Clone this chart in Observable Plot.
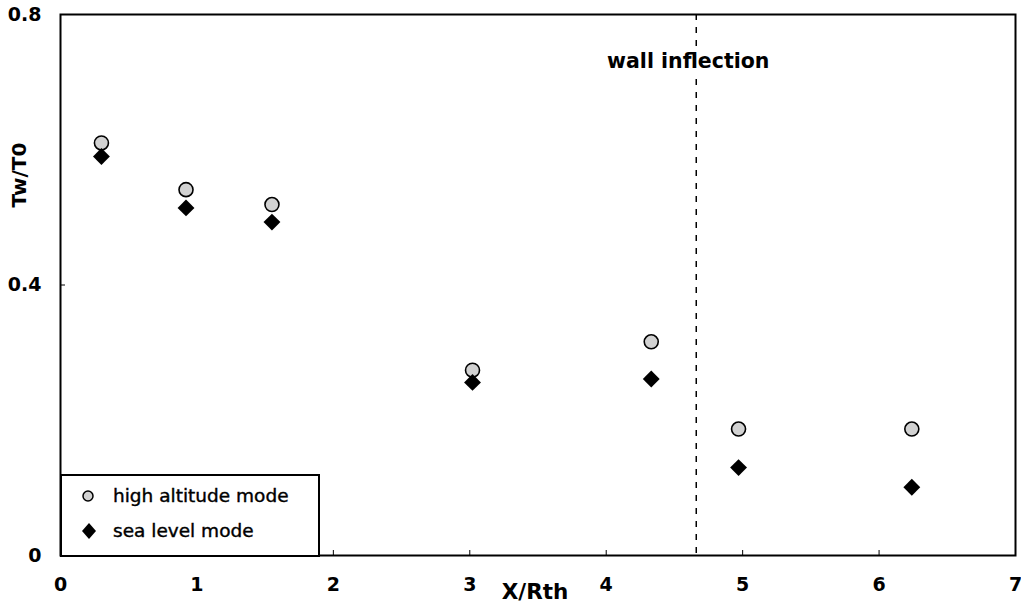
<!DOCTYPE html>
<html>
<head>
<meta charset="utf-8">
<script src="https://cdn.jsdelivr.net/npm/d3@7"></script>
<script src="https://cdn.jsdelivr.net/npm/@observablehq/plot@0.6"></script>
<style>
  html, body { margin: 0; padding: 0; background: #fff; }
  #wrap { position: relative; width: 1021px; height: 607px; }
  #legend {
    position: absolute; left: 60px; top: 474px; width: 256px; height: 79px;
    border: 2px solid #000; background: #fff;
    font-family: "DejaVu Sans", sans-serif; font-size: 18.5px; color: #000;
  }
  #legend .item { position: absolute; left: 0; display: flex; align-items: center; }
  #legend svg { display: block; }
</style>
</head>
<body>
<div id="wrap"></div>
<script>
// ---- data ----
const xPositions = [0.3, 0.92, 1.55, 3.02, 4.33, 4.97, 6.24];
const highAltitudeMode = [0.610, 0.541, 0.519, 0.274, 0.316, 0.187, 0.187];
const seaLevelMode = [0.590, 0.514, 0.493, 0.256, 0.261, 0.130, 0.101];
const seriesNames = ["high altitude mode", "sea level mode"];
const wallInflectionX = 4.66;
const wallInflectionLabel = "wall inflection";
const xTicks = [0, 1, 2, 3, 4, 5, 6, 7];
const yTicks = [0, 0.4, 0.8];
const xLabel = "X/Rth";
const yLabel = "Tw/T0";

const high = xPositions.map((x, i) => ({x, y: highAltitudeMode[i]}));
const sea = xPositions.map((x, i) => ({x, y: seaLevelMode[i]}));

const FONT = "DejaVu Sans, sans-serif";

const chart = Plot.plot({
  width: 1021,
  height: 607,
  marginLeft: 60,
  marginRight: 6,
  marginTop: 14,
  marginBottom: 52,
  style: {fontFamily: FONT, fontSize: "19px", fontWeight: "bold", color: "#000", background: "#fff"},
  x: {domain: [0, 7]},
  y: {domain: [0, 0.8]},
  marks: [
    Plot.axisX({ticks: xTicks, tickSize: -5, tickPadding: 27, label: null, tickFormat: d3.format("d")}),
    Plot.axisY({ticks: yTicks, tickSize: -5, tickPadding: 24, label: null, tickFormat: d => d === 0 ? "0" : d3.format(".1f")(d)}),
    Plot.ruleX([wallInflectionX], {stroke: "#000", strokeWidth: 1.5, strokeDasharray: "6,7"}),
    Plot.text([wallInflectionLabel], {
      x: [wallInflectionX], text: d => d, frameAnchor: "top", lineAnchor: "middle", textAnchor: "middle",
      dx: -8, dy: 47,
      fontSize: 20.5, fontWeight: "bold", fill: "#000", stroke: "#fff", strokeWidth: 10
    }),
    Plot.dot(high, {x: "x", y: "y", symbol: "circle", r: 7, fill: "#d2d2d2", stroke: "#000", strokeWidth: 1.6}),
    Plot.dot(sea, {x: "x", y: "y", symbol: "diamond2", r: 7.6, fill: "#000", stroke: "none"}),
    Plot.text([yLabel], {
      text: d => d, frameAnchor: "left", textAnchor: "middle", lineAnchor: "middle",
      dx: -41, dy: -110, rotate: -90,
      fontSize: 20, fontWeight: "bold", fill: "#000"
    }),
    Plot.text([xLabel], {
      text: d => d, frameAnchor: "bottom", textAnchor: "middle", lineAnchor: "middle",
      dx: -3, dy: 37,
      fontSize: 21.5, fontWeight: "bold", fill: "#000"
    }),
    Plot.frame({stroke: "#000", strokeWidth: 2})
  ]
});

const wrap = document.getElementById("wrap");
wrap.appendChild(chart);

// legend (inside the plot area, bottom-left)
const legend = document.createElement("div");
legend.id = "legend";
const symbols = [
  `<svg width="16" height="16"><circle cx="8" cy="8" r="5" fill="#d2d2d2" stroke="#000" stroke-width="1.5"/></svg>`,
  `<svg width="18" height="18"><path d="M9,1 L16,9 L9,17 L2,9 Z" fill="#000"/></svg>`
];
seriesNames.forEach((name, i) => {
  const item = document.createElement("div");
  item.className = "item";
  item.style.top = (i === 0 ? 9 : 44) + "px";
  item.style.left = "18px";
  item.innerHTML = symbols[i] + `<span style="margin-left:${i === 0 ? 17 : 15}px;-webkit-text-stroke:0.4px #000">${name}</span>`;
  legend.appendChild(item);
});
wrap.appendChild(legend);
</script>
</body>
</html>
